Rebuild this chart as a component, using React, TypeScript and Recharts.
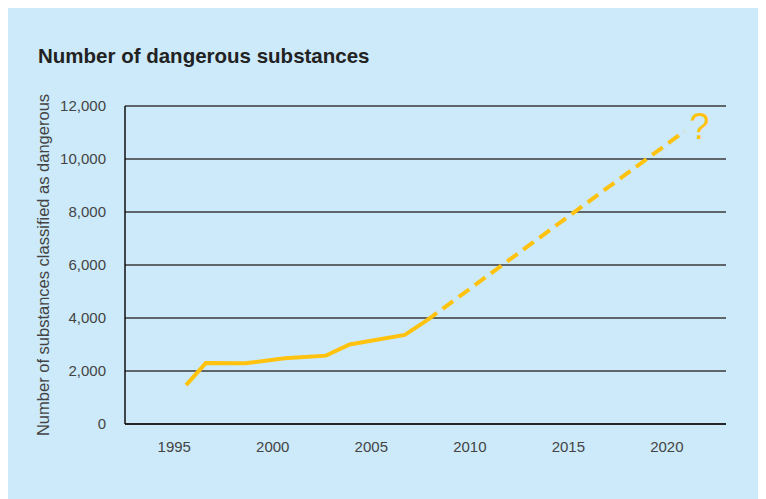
import { LineChart, Line, XAxis, YAxis, CartesianGrid } from "recharts";

// Years (fractional, read from the plotted vertices)
const years = [1995.6, 1996.6, 1998.6, 2000.6, 2002.7, 2003.9, 2006.7, 2007.8, 2020.9];
// Observed counts (solid line)
const observed = [1470, 2300, 2290, 2480, 2580, 3000, 3360, 3900, null];
// Projected counts (dashed line)
const projected = [null, null, null, null, null, null, null, 3900, 11050];

const xTicks = [1995, 2000, 2005, 2010, 2015, 2020];
const yTicks = [0, 2000, 4000, 6000, 8000, 10000, 12000];

const title = "Number of dangerous substances";
const yLabel = "Number of substances classified as dangerous";

const YELLOW = "#ffc20e";
const BG = "#cceafa";
const FONT = "'Liberation Sans', Arial, sans-serif";

const chartData = years.map((year, i) => ({
  year,
  observed: observed[i],
  projected: projected[i],
}));

function formatThousands(v: number): string {
  return v.toLocaleString("en-US");
}

// "?" drawn next to the last projected point
function QuestionMark(props: any) {
  const { x, y, index } = props;
  if (index !== years.length - 1 || x == null || y == null) return null;
  return (
    <text x={x + 15} y={y + 8} textAnchor="middle" fill={YELLOW} fontSize={36} fontFamily={FONT}>
      ?
    </text>
  );
}

function YAxisTitle(props: any) {
  const { viewBox } = props;
  const cy = viewBox.y + viewBox.height / 2;
  const cx = 35;
  return (
    <text
      x={cx}
      y={cy}
      transform={`rotate(-90, ${cx}, ${cy})`}
      textAnchor="middle"
      dominantBaseline="central"
      fill="#444"
      fontSize={16.5}
      fontFamily={FONT}
    >
      {yLabel}
    </text>
  );
}

export default function App() {
  return (
    <div
      style={{
        position: "relative",
        marginTop: -2,
        width: 758,
        height: 493,
        background: BG,
        fontFamily: FONT,
      }}
    >
      <div
        style={{
          position: "absolute",
          left: 30,
          top: 38,
          fontSize: 20.5,
          fontWeight: "bold",
          color: "#222",
          whiteSpace: "nowrap",
        }}
      >
        {title}
      </div>
      <LineChart
        width={758}
        height={493}
        data={chartData}
        margin={{ top: 100, right: 40, left: 57, bottom: 45 }}
      >
        <CartesianGrid vertical={false} stroke="#3a3a3a" strokeWidth={1.5} />
        <XAxis
          dataKey="year"
          type="number"
          domain={[1992.5, 2023]}
          ticks={xTicks}
          allowDataOverflow
          axisLine={{ stroke: "#111", strokeWidth: 1.5 }}
          tickLine={false}
          tick={{ fontSize: 15, fill: "#444", fontFamily: FONT }}
          tickMargin={11}
          height={30}
        />
        <YAxis
          type="number"
          domain={[0, 12000]}
          ticks={yTicks}
          tickFormatter={formatThousands}
          axisLine={{ stroke: "#111", strokeWidth: 1.5 }}
          tickLine={false}
          tick={{ fontSize: 15, fill: "#444", fontFamily: FONT }}
          tickMargin={13}
          width={60}
          label={<YAxisTitle />}
        />
        <Line
          dataKey="observed"
          stroke={YELLOW}
          strokeWidth={4}
          dot={false}
          activeDot={false}
          type="linear"
          isAnimationActive={false}
        />
        <Line
          dataKey="projected"
          stroke={YELLOW}
          strokeWidth={4}
          strokeDasharray="13 7"
          dot={false}
          activeDot={false}
          type="linear"
          label={<QuestionMark />}
          isAnimationActive={false}
        />
      </LineChart>
    </div>
  );
}
